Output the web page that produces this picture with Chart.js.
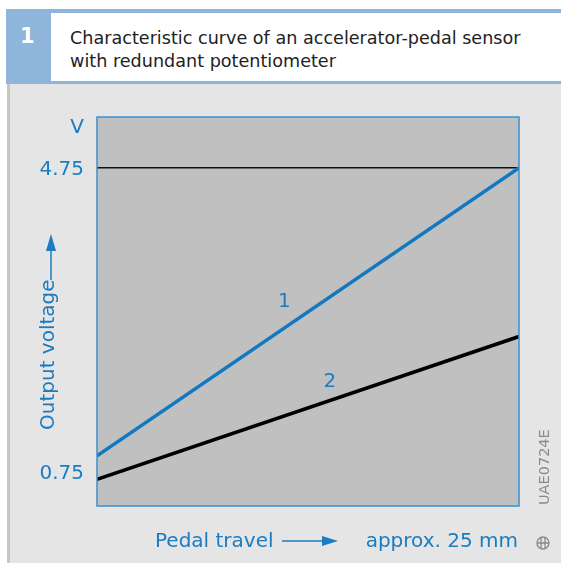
<!DOCTYPE html>
<html>
<head>
<meta charset="utf-8">
<script src="https://cdn.jsdelivr.net/npm/chart.js@4"></script>
<style>
  body { margin: 0; background: #fff; width: 561px; height: 563px; overflow: hidden; position: relative; }
  .panel { position: absolute; left: 7px; top: 82px; width: 551px; height: 481px; background: #e5e5e5; border-left: 3px solid #c6c6c6; }
  .head { position: absolute; left: 6px; top: 9px; right: 0; height: 75px; background: #8fb5da; }
  .num { position: absolute; left: 14px; top: 15px; color: #fff; font: bold 21px 'DejaVu Sans', sans-serif; }
  .title { position: absolute; left: 45px; top: 4px; right: 0; height: 68px; background: #fff;
           color: #222; font: 17.6px 'DejaVu Sans', sans-serif; line-height: 23px; padding: 14px 0 0 19px; box-sizing: border-box; }
  #chartBox { position: absolute; left: 0; top: 0; width: 561px; height: 563px; }
</style>
</head>
<body>
<div class="panel"></div>
<div class="head">
  <div class="num">1</div>
  <div class="title">Characteristic curve of an accelerator-pedal sensor<br>with redundant potentiometer</div>
</div>
<div id="chartBox"><canvas id="curveChart" width="561" height="563"></canvas></div>
<script>
// pedal travel in mm (0 .. approx. 25 mm)
const travel = [0, 25];
// output voltage of potentiometer 1 and 2 (V)
const pot1 = [0.96, 4.75];
const pot2 = [0.65, 2.53];
const seriesNames = ['1', '2'];
// where the curve numbers sit, in data units [travel, volt]
const nameAt = [[11.1, 2.99], [13.8, 1.93]];
const yTicks = [0.75, 4.75];
const yUnit = 'V';
const yUnitAt = 5.3;
const xTitle = 'Pedal travel';
const xEnd = 'approx. 25 mm';
const yTitle = 'Output voltage';
const figCode = 'UAE0724E';

const BLUE = '#1a7cc2';
const FONT = "'DejaVu Sans', sans-serif";

const decor = {
    id: 'decor',
    beforeDraw(chart) {
        const { ctx, chartArea: a } = chart;
        ctx.save();
        ctx.fillStyle = '#c0c0c0';
        ctx.fillRect(a.left, a.top, a.right - a.left, a.bottom - a.top);
        ctx.restore();
    },
    afterDatasetsDraw(chart) {
        const { ctx, chartArea: a, scales } = chart;
        ctx.save();
        // blue frame round the plot
        ctx.strokeStyle = '#3b90d0';
        ctx.lineWidth = 1.5;
        ctx.strokeRect(a.left, a.top, a.right - a.left, a.bottom - a.top);

        // curve numbers
        ctx.fillStyle = BLUE;
        ctx.font = '20px ' + FONT;
        ctx.textAlign = 'center';
        ctx.textBaseline = 'middle';
        nameAt.forEach((p, i) => {
            ctx.fillText(seriesNames[i], scales.x.getPixelForValue(p[0]), scales.y.getPixelForValue(p[1]));
        });

        // x title with arrow
        const by = 547;
        ctx.textAlign = 'left';
        ctx.textBaseline = 'alphabetic';
        ctx.fillText(xTitle, 155, by);
        ctx.strokeStyle = BLUE;
        ctx.lineWidth = 1.5;
        ctx.beginPath();
        ctx.moveTo(282, 541); ctx.lineTo(324, 541); ctx.stroke();
        ctx.beginPath();
        ctx.moveTo(338, 541); ctx.lineTo(322, 536); ctx.lineTo(322, 546); ctx.closePath(); ctx.fill();
        ctx.textAlign = 'right';
        ctx.fillText(xEnd, 518, by);

        // y title with arrow
        ctx.save();
        ctx.translate(54, 430);
        ctx.rotate(-Math.PI / 2);
        ctx.textAlign = 'left';
        ctx.fillText(yTitle, 0, 0);
        ctx.restore();
        ctx.beginPath();
        ctx.moveTo(51, 280); ctx.lineTo(51, 248); ctx.stroke();
        ctx.beginPath();
        ctx.moveTo(51, 234); ctx.lineTo(46, 251); ctx.lineTo(56, 251); ctx.closePath(); ctx.fill();

        // figure code and logo
        ctx.fillStyle = '#8a8a8a';
        ctx.strokeStyle = '#8a8a8a';
        ctx.font = '14.5px ' + FONT;
        ctx.save();
        ctx.translate(549, 505);
        ctx.rotate(-Math.PI / 2);
        ctx.textAlign = 'left';
        ctx.fillText(figCode, 0, 0);
        ctx.restore();
        ctx.lineWidth = 1.3;
        ctx.beginPath();
        ctx.arc(543, 543, 6, 0, Math.PI * 2);
        ctx.stroke();
        ctx.beginPath();
        ctx.moveTo(537, 543); ctx.lineTo(549, 543);
        ctx.moveTo(541, 538); ctx.lineTo(541, 548);
        ctx.moveTo(545, 538); ctx.lineTo(545, 548);
        ctx.stroke();
        ctx.restore();
    }
};

new Chart(document.getElementById('curveChart'), {
    type: 'line',
    data: {
        datasets: [
            {
                label: seriesNames[0],
                data: travel.map((t, i) => ({ x: t, y: pot1[i] })),
                borderColor: '#1279c0',
                borderWidth: 3.6,
                pointRadius: 0,
                tension: 0
            },
            {
                label: seriesNames[1],
                data: travel.map((t, i) => ({ x: t, y: pot2[i] })),
                borderColor: '#000',
                borderWidth: 3.6,
                pointRadius: 0,
                tension: 0
            }
        ]
    },
    options: {
        responsive: false,
        devicePixelRatio: 1,
        animation: false,
        layout: { padding: { left: 0, top: 117, right: 42, bottom: 57 } },
        plugins: { legend: { display: false }, tooltip: { enabled: false } },
        scales: {
            x: { type: 'linear', min: 0, max: 25, display: false },
            y: {
                type: 'linear',
                min: 0.3,
                max: 5.42,
                afterFit: s => { s.width = 97; },
                afterBuildTicks: s => { s.ticks = [...yTicks, yUnitAt].map(v => ({ value: v })); },
                border: { display: false },
                grid: {
                    drawTicks: false,
                    lineWidth: 1.5,
                    color: c => (c.tick && c.tick.value === 4.75 ? '#111' : 'rgba(0,0,0,0)')
                },
                ticks: {
                    padding: 13,
                    color: BLUE,
                    font: { family: FONT, size: 20 },
                    labelOffset: 2,
                    callback: v => (v === yUnitAt ? yUnit : v.toFixed(2))
                }
            }
        }
    },
    plugins: [decor]
});
</script>
</body>
</html>
